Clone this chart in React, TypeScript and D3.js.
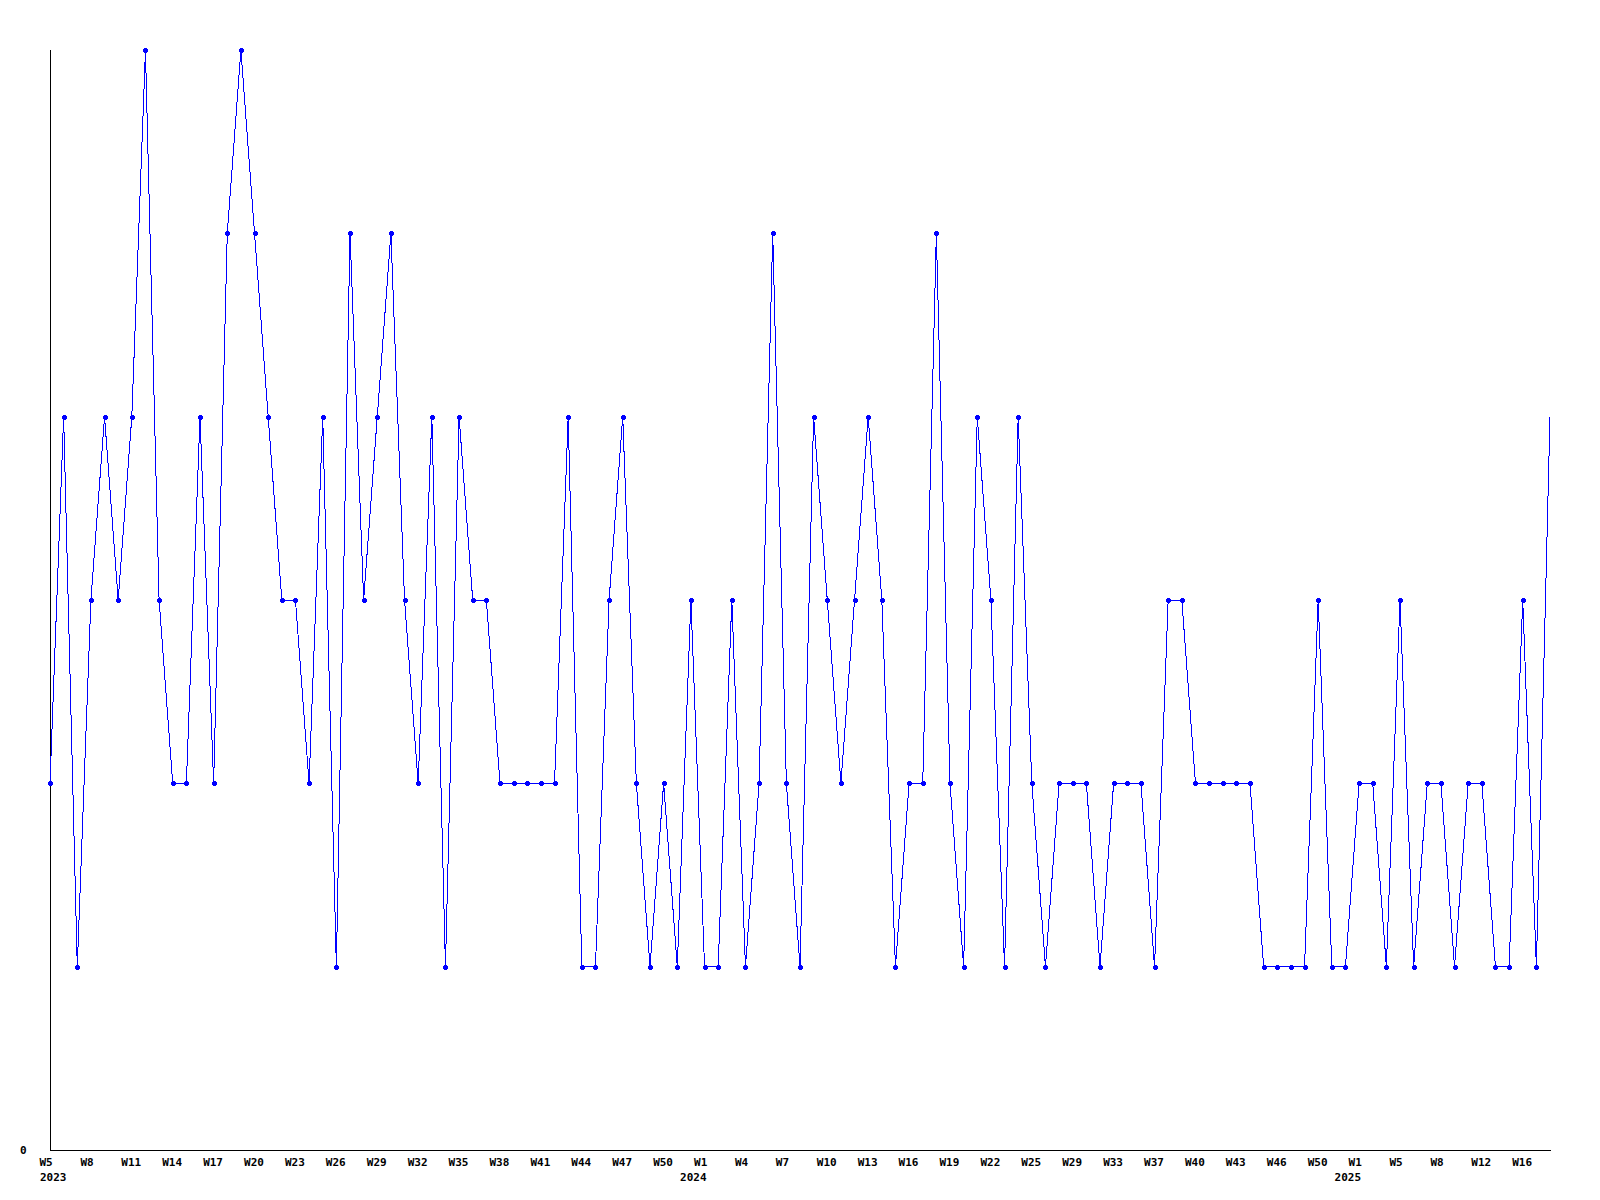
import React from "react";
import * as d3 from "d3";

// Weekly values, W5 2023 onward (one per point)
const values2023 = [
  2, 4, 1, 3, 4, 3, 4, 6, 3, 2, 2, 4, 2, 5, 6, 5, 4, 3, 3, 2, 4, 1, 5, 3,
  4, 5, 3, 2, 4, 1, 4, 3, 3, 2, 2, 2, 2, 2, 4, 1, 1, 3, 4, 2, 1, 2, 1, 3,
];
const values2024 = [
  1, 1, 3, 1, 2, 5, 2, 1, 4, 3, 2, 3, 4, 3, 1, 2, 2, 5, 2, 1, 4, 3, 1, 4,
  2, 1, 2, 2, 2, 1, 2, 2, 2, 1, 3, 3, 2, 2, 2, 2, 2, 1, 1, 1, 1, 3, 1, 1,
  2, 2, 1, 3,
];
const values2025 = [1, 2, 2, 1, 2, 2, 1, 1, 3, 1, 4];

const values = [...values2023, ...values2024, ...values2025];

// x-axis labels, one every third point
const weekTickLabels = [
  "W5", "W8", "W11", "W14", "W17", "W20", "W23", "W26", "W29", "W32", "W35",
  "W38", "W41", "W44", "W47", "W50", "W1", "W4", "W7", "W10", "W13", "W16",
  "W19", "W22", "W25", "W29", "W33", "W37", "W40", "W43", "W46", "W50", "W1",
  "W5", "W8", "W12", "W16",
];
const yearLabels = ["2023", "2024", "2025"];
const yearTickPositions = [0, 48, 96];
const tickEvery = 3;

const yTickLabels = ["0"];

export default function App() {
  const W = 1600;
  const H = 1200;
  const left = 50;
  const right = 1550;
  const top = 50;
  const bottom = 1150;

  const x = d3.scaleLinear().domain([0, values.length - 1]).range([left, right]);
  const y = d3.scaleLinear().domain([0, 6]).range([bottom, top]);

  const line = d3
    .line<number>()
    .x((_, i) => x(i))
    .y((d) => y(d));

  const font = "'DejaVu Sans Mono', monospace";

  return (
    <svg
      width={W}
      height={H}
      style={{ position: "absolute", left: 0, top: 0, background: "#fff" }}
    >
      <rect x={0} y={0} width={W} height={H} fill="#fff" />
      {/* axes */}
      <line x1={left + 0.5} x2={left + 0.5} y1={top} y2={bottom} stroke="#000" strokeWidth={1} shapeRendering="crispEdges" />
      <line x1={left} x2={right + 1} y1={bottom + 0.5} y2={bottom + 0.5} stroke="#000" strokeWidth={1} shapeRendering="crispEdges" />

      {/* series */}
      <path
        d={line(values) || ""}
        fill="none"
        stroke="#0000ff"
        strokeWidth={1}
        shapeRendering="crispEdges"
      />
      {values.slice(0, values.length - 1).map((v, i) => {
        const cx = Math.round(x(i));
        const cy = Math.round(y(v));
        return (
          <g key={i} fill="#0000ff" shapeRendering="crispEdges">
            <rect x={cx - 2} y={cy - 1} width={5} height={3} />
            <rect x={cx - 1} y={cy - 2} width={3} height={5} />
          </g>
        );
      })}

      {/* y labels */}
      {yTickLabels.map((t) => (
        <text
          key={t}
          x={20}
          y={y(0) + 4}
          fontFamily={font}
          fontWeight="bold"
          fontSize={11}
          fill="#000"
        >
          {t}
        </text>
      ))}

      {/* x labels */}
      {weekTickLabels.map((t, k) => (
        <text
          key={k}
          x={x(k * tickEvery) - 10.5}
          y={1166}
          fontFamily={font}
          fontWeight="bold"
          fontSize={11}
          fill="#000"
        >
          {t}
        </text>
      ))}
      {yearLabels.map((t, k) => (
        <text
          key={t}
          x={Math.max(x(yearTickPositions[k]) - 24.5, 40)}
          y={1181}
          fontFamily={font}
          fontWeight="bold"
          fontSize={11}
          fill="#000"
        >
          {t}
        </text>
      ))}
    </svg>
  );
}
